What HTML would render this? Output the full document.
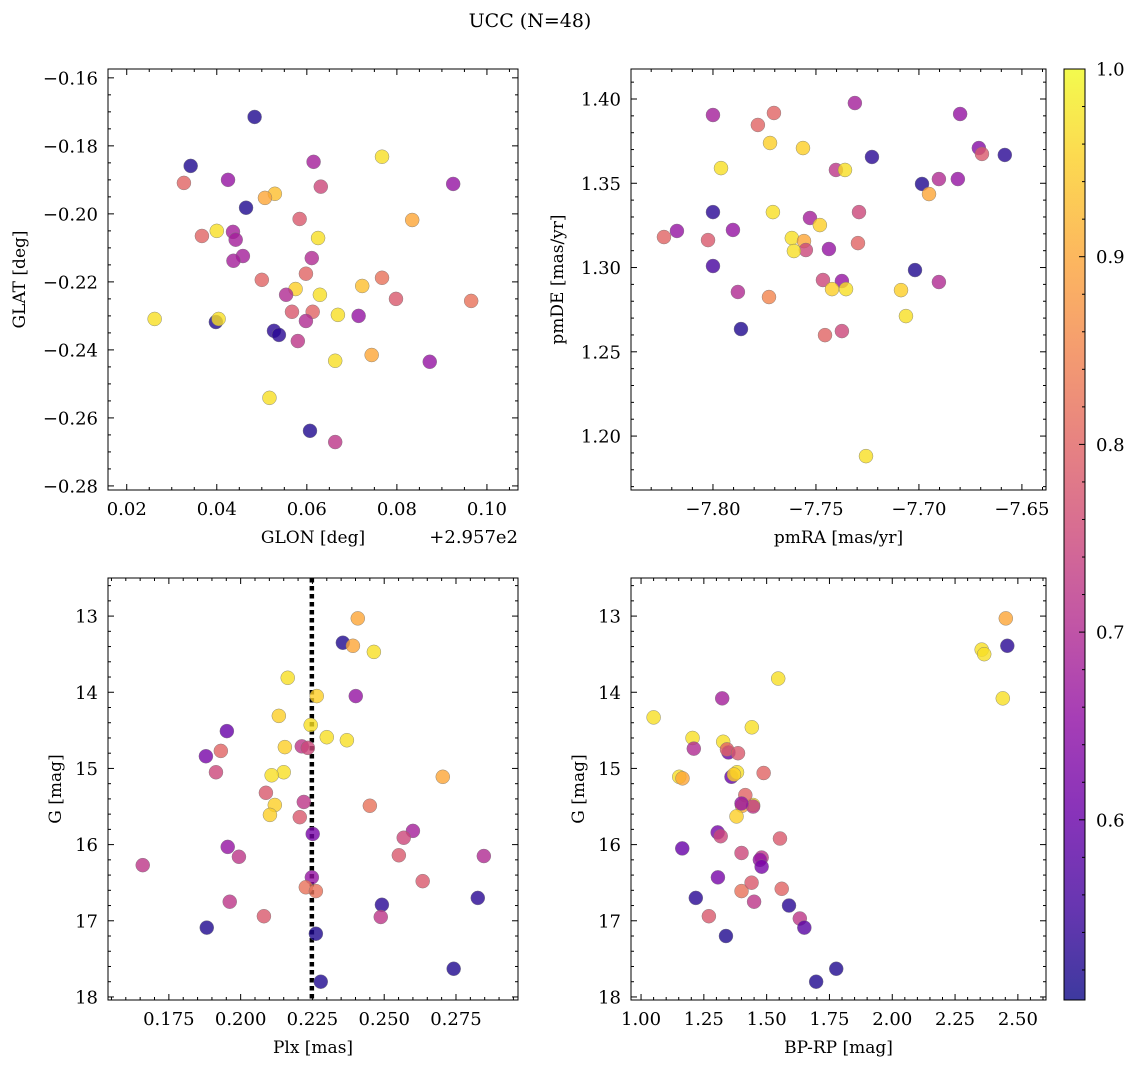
<!DOCTYPE html>
<html><head><meta charset="utf-8"><style>
html,body{margin:0;padding:0;background:#fff;}
svg{display:block;font-family:"DejaVu Serif","Liberation Serif",serif;}
</style></head><body>
<svg id="fig" width="1136" height="1068" viewBox="0 0 1136 1068" xmlns="http://www.w3.org/2000/svg">
<defs><linearGradient id="cbg" x1="0" y1="1" x2="0" y2="0">
<stop offset="0" stop-color="#0d0887"/><stop offset="0.1" stop-color="#41049d"/><stop offset="0.2" stop-color="#6a00a8"/><stop offset="0.3" stop-color="#8f0da4"/><stop offset="0.4" stop-color="#b12a90"/><stop offset="0.5" stop-color="#cc4778"/><stop offset="0.6" stop-color="#e16462"/><stop offset="0.7" stop-color="#f2844b"/><stop offset="0.8" stop-color="#fca636"/><stop offset="0.9" stop-color="#fcce25"/><stop offset="1" stop-color="#f0f921"/>
</linearGradient></defs>
<text x="530" y="27" font-size="19" text-anchor="middle">UCC (N=48)</text>
</svg>
<script>
// ---- data ----
const glonOff=[0.0484,0.0342,0.0327,0.0425,0.0615,0.0767,0.0925,0.0631,0.0529,0.0507,0.0465,0.0584,0.0834,0.0400,0.0436,0.0367,0.0442,0.0625,0.0458,0.0437,0.0611,0.0598,0.0767,0.0723,0.0629,0.0575,0.0554,0.0500,0.0798,0.0965,0.0567,0.0613,0.0598,0.0669,0.0715,0.0262,0.0398,0.0404,0.0527,0.0538,0.0580,0.0744,0.0663,0.0873,0.0517,0.0607,0.0663];
const glat=[-0.1715,-0.1859,-0.1909,-0.190,-0.1847,-0.1832,-0.1912,-0.192,-0.1941,-0.1953,-0.1982,-0.2015,-0.2018,-0.205,-0.2053,-0.2065,-0.2076,-0.2071,-0.2124,-0.2138,-0.213,-0.2176,-0.2188,-0.2212,-0.2238,-0.2221,-0.2238,-0.2194,-0.225,-0.2256,-0.2288,-0.2288,-0.2315,-0.2297,-0.230,-0.2309,-0.2318,-0.2309,-0.2344,-0.2356,-0.2374,-0.2415,-0.2432,-0.2435,-0.2541,-0.2638,-0.2671];
const probA=[0.52,0.52,0.8,0.66,0.68,0.97,0.66,0.75,0.93,0.9,0.52,0.78,0.9,0.97,0.68,0.8,0.68,0.97,0.68,0.68,0.7,0.8,0.82,0.93,0.97,0.95,0.7,0.8,0.78,0.82,0.78,0.8,0.7,0.97,0.66,0.97,0.52,0.97,0.53,0.53,0.72,0.9,0.97,0.66,0.97,0.52,0.72];
const pmra=[-7.800,-7.7704,-7.7311,-7.7782,-7.7723,-7.680,-7.7563,-7.7403,-7.7359,-7.7228,-7.7961,-7.6709,-7.6583,-7.6694,-7.6985,-7.6903,-7.6811,-7.6951,-7.800,-7.7709,-7.7529,-7.7291,-7.7481,-7.8238,-7.8175,-7.8024,-7.7903,-7.7617,-7.7558,-7.7549,-7.7607,-7.7437,-7.7296,-7.800,-7.7019,-7.7879,-7.7728,-7.7466,-7.7374,-7.7422,-7.7354,-7.7087,-7.6903,-7.7063,-7.7864,-7.7456,-7.7374,-7.7257];
const pmde=[1.3905,1.3917,1.3976,1.3846,1.3739,1.3911,1.3709,1.3579,1.3579,1.3656,1.3590,1.3709,1.3668,1.3674,1.3496,1.3525,1.3525,1.3436,1.3329,1.3329,1.3294,1.3329,1.3252,1.3181,1.3217,1.3163,1.3223,1.3175,1.3157,1.3104,1.3098,1.3110,1.3145,1.3009,1.2985,1.2855,1.2825,1.2926,1.2920,1.2872,1.2872,1.2866,1.2914,1.2712,1.2635,1.2599,1.2623,1.1881];
const probB=[0.68,0.8,0.68,0.8,0.95,0.66,0.95,0.72,0.97,0.53,0.97,0.64,0.53,0.78,0.52,0.7,0.66,0.9,0.53,0.97,0.68,0.75,0.95,0.8,0.66,0.78,0.66,0.97,0.9,0.75,0.97,0.66,0.8,0.56,0.52,0.7,0.85,0.75,0.66,0.95,0.97,0.95,0.7,0.97,0.52,0.8,0.75,0.97];
const plx=[0.2408,0.2356,0.2391,0.2464,0.2164,0.2265,0.2401,0.2133,0.1952,0.2244,0.2300,0.2370,0.2213,0.2234,0.2154,0.1931,0.1879,0.1914,0.2150,0.2108,0.2704,0.2088,0.2119,0.2220,0.2450,0.2102,0.2206,0.2251,0.2600,0.2568,0.1955,0.1994,0.2551,0.2847,0.1659,0.2634,0.2248,0.2227,0.2262,0.2826,0.1962,0.2492,0.2081,0.2488,0.1882,0.2262,0.2742,0.2279];
const gmag=[13.03,13.35,13.39,13.47,13.81,14.05,14.05,14.31,14.51,14.43,14.59,14.63,14.71,14.73,14.72,14.77,14.84,15.05,15.05,15.09,15.11,15.32,15.48,15.44,15.49,15.61,15.64,15.86,15.82,15.91,16.03,16.16,16.14,16.15,16.27,16.48,16.43,16.56,16.61,16.70,16.75,16.79,16.94,16.95,17.09,17.17,17.63,17.80];
const probC=[0.9,0.52,0.9,0.97,0.97,0.95,0.66,0.95,0.6,0.97,0.97,0.97,0.72,0.75,0.95,0.8,0.62,0.75,0.97,0.97,0.9,0.78,0.95,0.72,0.82,0.95,0.78,0.62,0.68,0.75,0.66,0.72,0.78,0.7,0.72,0.78,0.66,0.82,0.82,0.53,0.72,0.53,0.78,0.72,0.52,0.52,0.52,0.52];
const bprp=[2.452,2.356,2.366,2.458,2.440,1.546,1.323,1.050,1.205,1.441,1.327,1.348,1.342,1.210,1.446,1.488,1.360,1.386,1.382,1.152,1.165,1.415,1.402,1.446,1.380,1.370,1.400,1.305,1.317,1.553,1.164,1.480,1.473,1.480,1.400,1.450,1.306,1.400,1.560,1.218,1.440,1.589,1.270,1.632,1.650,1.338,1.777,1.697];
const gmag2=[13.03,13.44,13.50,13.39,14.08,13.82,14.08,14.33,14.60,14.46,14.65,14.79,14.75,14.74,15.48,15.06,15.11,14.80,15.05,15.11,15.13,15.35,15.49,15.50,15.63,15.08,15.46,15.84,15.89,15.92,16.05,16.17,16.20,16.29,16.11,16.75,16.43,16.61,16.58,16.70,16.50,16.80,16.94,16.97,17.09,17.20,17.63,17.80];
const probD=[0.9,0.97,0.97,0.53,0.97,0.97,0.68,0.97,0.97,0.97,0.97,0.6,0.8,0.7,0.97,0.8,0.6,0.78,0.97,0.97,0.9,0.8,0.9,0.72,0.95,0.95,0.66,0.62,0.75,0.78,0.6,0.72,0.66,0.62,0.75,0.72,0.62,0.82,0.8,0.53,0.78,0.53,0.78,0.72,0.58,0.52,0.52,0.52];
const plxMedian=0.2248;
const cbTicks=[0.6,0.7,0.8,0.9,1.0];
const vmin=0.504, vmax=1.0;

// ---- helpers ----
const svg=document.getElementById('fig');
const NS='http://www.w3.org/2000/svg';
function mk(tag,attrs,parent){const e=document.createElementNS(NS,tag);for(const k in attrs)e.setAttribute(k,attrs[k]);(parent||svg).appendChild(e);return e;}
const stops=[[13,8,135],[65,4,157],[106,0,168],[143,13,164],[177,42,144],[204,71,120],[225,100,98],[242,132,75],[252,166,54],[252,206,37],[240,249,33]];
function cmap(p){let t=(p-vmin)/(vmax-vmin);t=Math.max(0,Math.min(1,t))*10;const i=Math.min(9,Math.floor(t)),f=t-i;const a=stops[i],b=stops[i+1];return 'rgb('+[0,1,2].map(k=>Math.round(a[k]+(b[k]-a[k])*f)).join(',')+')';}
function fmt(v,d){const s=v.toFixed(d);return s.replace('-','\u2212');}

function panel(o){
  const g=mk('g',{});
  
  
  const sx=v=>o.x0+(v-o.xmin)/(o.xmax-o.xmin)*(o.x1-o.x0);
  const sy=o.inv?(v=>o.y0+(v-o.ymin)/(o.ymax-o.ymin)*(o.y1-o.y0)):(v=>o.y1-(v-o.ymin)/(o.ymax-o.ymin)*(o.y1-o.y0));
  const clip='c'+o.name;
  const cp=mk('clipPath',{id:clip},g);mk('rect',{x:o.x0,y:o.y0,width:o.x1-o.x0,height:o.y1-o.y0},cp);
  const pts=mk('g',{'clip-path':'url(#'+clip+')'},g);
  if(o.vline!==undefined){
    const l=mk('line',{x1:sx(o.vline),x2:sx(o.vline),y1:o.y0,y2:o.y1,stroke:'#000','stroke-width':4.5,'stroke-dasharray':'4.5,3.5'},pts);
    
    
  }
  for(let i=0;i<o.xs.length;i++){
    const c=mk('circle',{cx:sx(o.xs[i]),cy:sy(o.ys[i]),r:7,fill:cmap(o.cs[i]),'fill-opacity':0.8,stroke:'#777','stroke-width':0.5,'stroke-opacity':0.8},pts);
    
    
  }
  mk('rect',{x:o.x0,y:o.y0,width:o.x1-o.x0,height:o.y1-o.y0,fill:'none',stroke:'#000','stroke-width':1},g);
  const tk=mk('g',{stroke:'#000','stroke-width':1},g);
  for(let v=Math.ceil(o.xmin/o.xmi-1e-6)*o.xmi;v<=o.xmax+1e-9;v+=o.xmi){
    const X=sx(v);const major=Math.abs(v/o.xma-Math.round(v/o.xma))<1e-4;const L=major?6:3;
    mk('line',{x1:X,x2:X,y1:o.y1,y2:o.y1-L},tk);mk('line',{x1:X,x2:X,y1:o.y0,y2:o.y0+L},tk);
    if(major){const t=mk('text',{x:X,y:o.y1+25,'font-size':18,'text-anchor':'middle'},g);t.textContent=fmt(v,o.xd);
      }
  }
  for(let v=Math.ceil(o.ymin/o.ymi-1e-6)*o.ymi;v<=o.ymax+1e-9;v+=o.ymi){
    const Y=sy(v);const major=Math.abs(v/o.yma-Math.round(v/o.yma))<1e-4;const L=major?6:3;
    mk('line',{x1:o.x0,x2:o.x0+L,y1:Y,y2:Y},tk);mk('line',{x1:o.x1,x2:o.x1-L,y1:Y,y2:Y},tk);
    if(major){const t=mk('text',{x:o.x0-10,y:Y+6.5,'font-size':18,'text-anchor':'end'},g);t.textContent=fmt(v,o.yd);
      }
  }
  const xl=mk('text',{x:(o.x0+o.x1)/2,y:o.y1+53,'font-size':17,'text-anchor':'middle'},g);xl.textContent=o.xlabel;
  
  const yl=mk('text',{x:0,y:0,'font-size':17,'text-anchor':'middle',transform:'translate('+o.ylx+','+((o.y0+o.y1)/2)+') rotate(-90)'},g);yl.textContent=o.ylabel;
  
  if(o.offset){const t=mk('text',{x:o.x1,y:o.y1+53,'font-size':18,'text-anchor':'end'},g);t.textContent=o.offset;
    }
}

panel({name:'glon-glat-panel',x0:108,x1:518,y0:69,y1:490,xmin:0.01584,xmax:0.1069,ymin:-0.2812,ymax:-0.1574,xma:0.02,xmi:0.005,yma:0.02,ymi:0.005,xd:2,yd:2,xs:glonOff,ys:glat,cs:probA,xlabel:'GLON [deg]',ylabel:'GLAT [deg]',ylx:25,offset:'+2.957e2'});
panel({name:'pm-panel',x0:631,x1:1046,y0:69,y1:490,xmin:-7.8398,xmax:-7.6383,ymin:1.168,ymax:1.4178,xma:0.05,xmi:0.01,yma:0.05,ymi:0.01,xd:2,yd:2,xs:pmra,ys:pmde,cs:probB,xlabel:'pmRA [mas/yr]',ylabel:'pmDE [mas/yr]',ylx:563});
panel({name:'plx-g-panel',x0:108,x1:518,y0:578,y1:1000,inv:true,xmin:0.1538,xmax:0.2966,ymin:12.50,ymax:18.04,xma:0.025,xmi:0.005,yma:1,ymi:0.2,xd:3,yd:0,xs:plx,ys:gmag,cs:probC,xlabel:'Plx [mas]',ylabel:'G [mag]',ylx:61,vline:plxMedian});
panel({name:'cmd-panel',x0:631,x1:1046,y0:578,y1:1000,inv:true,xmin:0.960,xmax:2.612,ymin:12.50,ymax:18.04,xma:0.25,xmi:0.05,yma:1,ymi:0.2,xd:2,yd:0,xs:bprp,ys:gmag2,cs:probD,xlabel:'BP-RP [mag]',ylabel:'G [mag]',ylx:584});

// colorbar
const cb=mk('g',{});


const cbx0=1064,cbx1=1085,cby0=69,cby1=1000;
mk('rect',{x:cbx0,y:cby0,width:cbx1-cbx0,height:cby1-cby0,fill:'url(#cbg)','fill-opacity':0.8},cb);
mk('rect',{x:cbx0,y:cby0,width:cbx1-cbx0,height:cby1-cby0,fill:'none',stroke:'#000'},cb);
const cy=v=>cby1-(v-vmin)/(vmax-vmin)*(cby1-cby0);
for(let v=0.52;v<=1.0001;v+=0.02){const Y=cy(v);const major=Math.abs(v*10-Math.round(v*10))<1e-3;
  mk('line',{x1:cbx1,x2:cbx1-(major?6:3),y1:Y,y2:Y,stroke:'#000'},cb);
  if(major){const t=mk('text',{x:cbx1+11,y:Y+6.5,'font-size':18},cb);t.textContent=v.toFixed(1);
    }}
</script>
</body></html>
